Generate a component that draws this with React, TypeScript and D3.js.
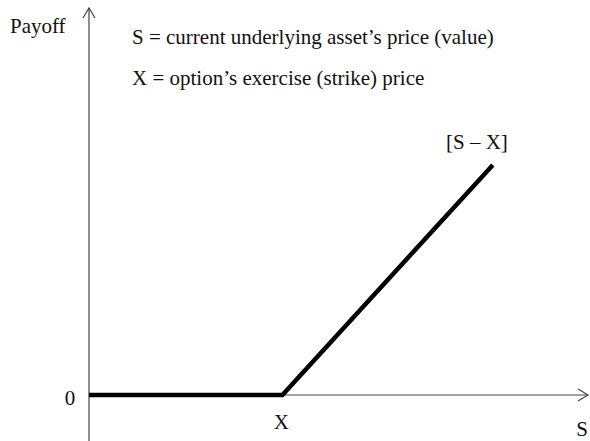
import React, { useEffect, useRef } from 'react';
import * as d3 from 'd3';

// payoff of a long call: zero up to the strike, then S - X
const spotPrices = [0, 100, 208.8];
const payoffs = [0, 0, 108.8];
const strikeLabel = 'X';
const spotLabel = 'S';
const payoffLabel = 'Payoff';
const zeroLabel = '0';
const lineLabel = '[S \u2013 X]';
const notes = [
  'S = current underlying asset\u2019s price (value)',
  'X = option\u2019s exercise (strike) price',
];

const App = () => {
  const chartRef = useRef<SVGSVGElement>(null);

  useEffect(() => {
    const width = 590;
    const height = 441;
    const font = '"Liberation Serif", "Times New Roman", serif';

    const svg = d3.select(chartRef.current);
    svg.selectAll('*').remove();

    const x = d3.scaleLinear().domain([0, 258]).range([89, 588]);
    const y = d3.scaleLinear().domain([0, 183]).range([395, 8]);

    const axisColor = '#444';

    // axes
    svg.append('line')
      .attr('x1', x(0)).attr('x2', x(0))
      .attr('y1', height).attr('y2', y(183))
      .attr('stroke', axisColor).attr('stroke-width', 1.2);
    svg.append('line')
      .attr('x1', x(0)).attr('x2', x(258))
      .attr('y1', y(0)).attr('y2', y(0))
      .attr('stroke', axisColor).attr('stroke-width', 1.2);

    // open arrow heads
    const tipY = [x(0), y(183)];
    svg.append('path')
      .attr('d', `M${tipY[0] - 6},${tipY[1] + 10}L${tipY[0]},${tipY[1]}L${tipY[0] + 6},${tipY[1] + 10}`)
      .attr('fill', 'none').attr('stroke', axisColor).attr('stroke-width', 1.2);
    const tipX = [x(258), y(0)];
    svg.append('path')
      .attr('d', `M${tipX[0] - 10},${tipX[1] - 6}L${tipX[0]},${tipX[1]}L${tipX[0] - 10},${tipX[1] + 6}`)
      .attr('fill', 'none').attr('stroke', axisColor).attr('stroke-width', 1.2);

    // payoff line
    const line = d3.line<number>()
      .x((d, i) => x(spotPrices[i]))
      .y(d => y(d));
    svg.append('path')
      .attr('d', line(payoffs))
      .attr('fill', 'none')
      .attr('stroke', '#000')
      .attr('stroke-width', 4.5)
      .attr('stroke-linejoin', 'miter');

    const text = (s: string, tx: number, ty: number, anchor = 'start') =>
      svg.append('text')
        .attr('x', tx).attr('y', ty)
        .attr('text-anchor', anchor)
        .attr('font-family', font)
        .attr('font-size', 21)
        .attr('fill', '#111')
        .text(s);

    text(payoffLabel, 10, 33);
    text(zeroLabel, 70, 405, 'middle');
    text(strikeLabel, x(spotPrices[1]) - 1, 429, 'middle');
    text(spotLabel, 582, 436, 'middle');
    text(lineLabel, 446, 149);
    notes.forEach((n, i) => text(n, 132, 44 + i * 41));

    svg.attr('width', width).attr('height', height);
  }, []);

  return (
    <svg
      ref={chartRef}
      width={590}
      height={441}
      style={{ position: 'absolute', left: 0, top: 0, background: '#fff' }}
    />
  );
};

export default App;
